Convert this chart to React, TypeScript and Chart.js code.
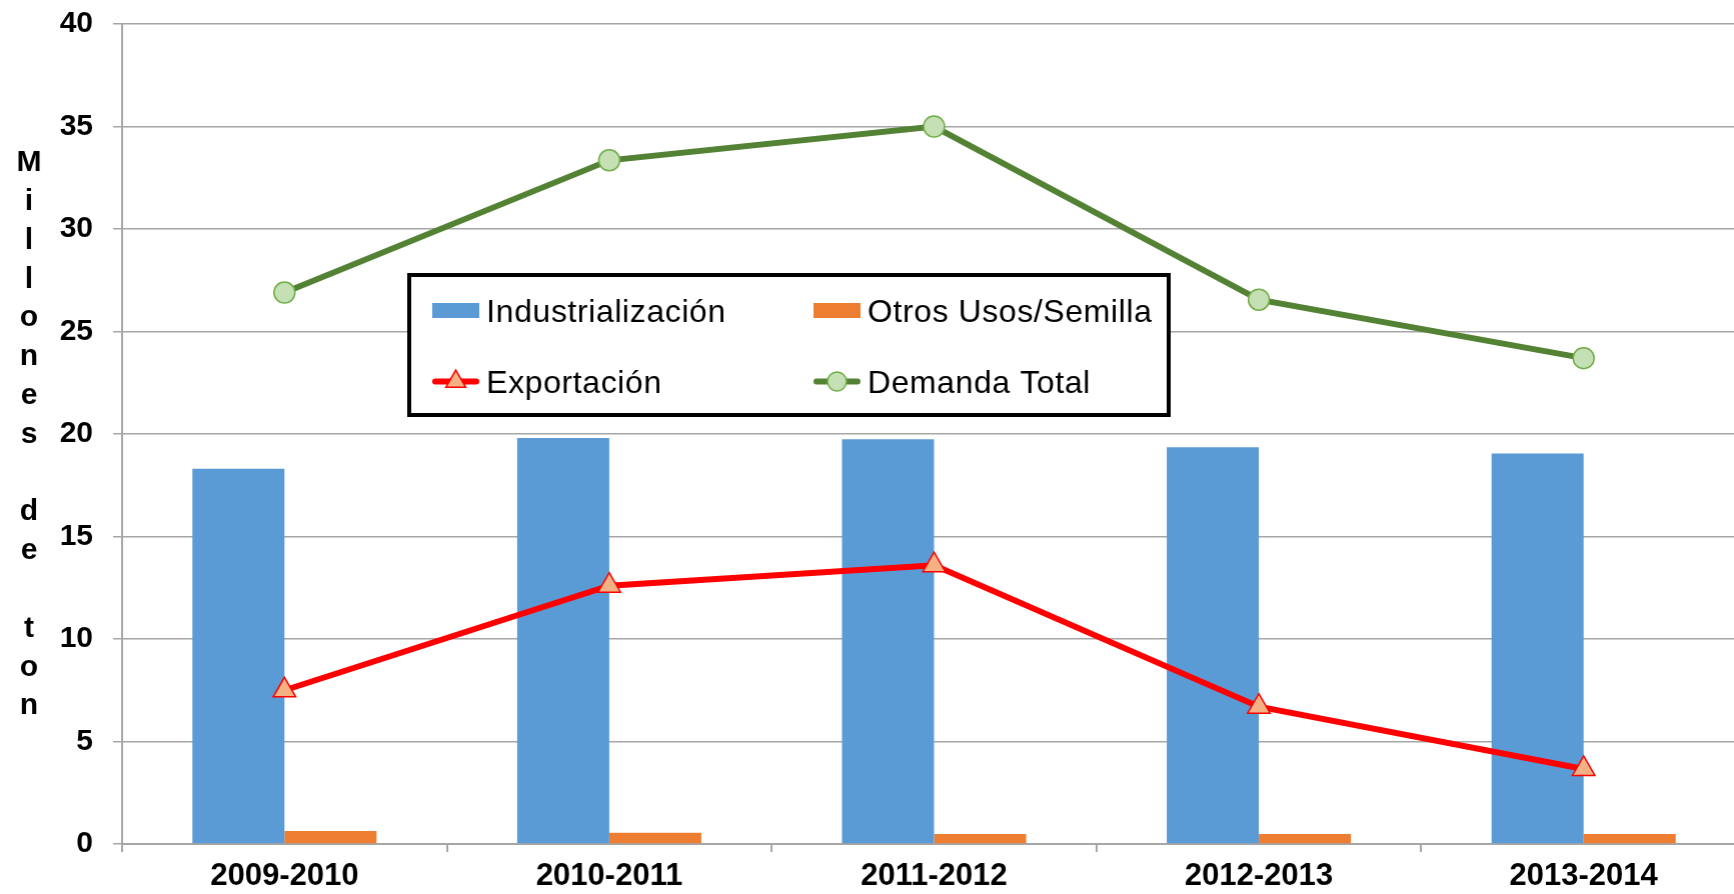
import React, { useEffect, useRef } from 'react';
import { Chart, registerables } from 'chart.js';

Chart.register(...registerables);

// ---- Data ----
const categories = ['2009-2010', '2010-2011', '2011-2012', '2012-2013', '2013-2014'];
const industrializacion = [18.3, 19.8, 19.75, 19.35, 19.05];
const otrosUsos = [0.63, 0.55, 0.49, 0.49, 0.49];
const exportacion = [7.5, 12.6, 13.6, 6.7, 3.66];
const demandaTotal = [26.9, 33.35, 35.0, 26.55, 23.7];
const seriesLabels = ['Industrialización', 'Otros Usos/Semilla', 'Exportación', 'Demanda Total'];
const yMin = 0;
const yMax = 40;
const yStep = 5;
const yTitle = 'Millones de ton';

const FONT = '"Liberation Sans", Arial, sans-serif';
const GRAY = '#a6a6a6';

const CANVAS_W = 1745; // plot area runs slightly past the visible right edge (as in the reference)
const CANVAS_H = 894;

function drawMarker(ctx: CanvasRenderingContext2D, style: string, x: number, y: number, r: number, fill: string, stroke: string, lw: number) {
  ctx.save();
  ctx.fillStyle = fill;
  ctx.strokeStyle = stroke;
  ctx.lineWidth = lw;
  ctx.beginPath();
  if (style === 'triangle') {
    let a = 0;
    ctx.moveTo(x + Math.sin(a) * r, y - Math.cos(a) * r);
    a += (2 * Math.PI) / 3;
    ctx.lineTo(x + Math.sin(a) * r, y - Math.cos(a) * r);
    a += (2 * Math.PI) / 3;
    ctx.lineTo(x + Math.sin(a) * r, y - Math.cos(a) * r);
    ctx.closePath();
  } else {
    ctx.arc(x, y, r, 0, Math.PI * 2);
  }
  ctx.fill();
  ctx.stroke();
  ctx.restore();
}

const legendPlugin = {
  id: 'boxLegend',
  afterDraw(chart: any) {
    const ctx: CanvasRenderingContext2D = chart.ctx;
    const box = { left: 407, top: 273, right: 1170, bottom: 417 };
    ctx.save();
    ctx.fillStyle = '#ffffff';
    ctx.fillRect(box.left, box.top, box.right - box.left, box.bottom - box.top);
    ctx.lineWidth = 4;
    ctx.strokeStyle = '#000000';
    ctx.strokeRect(box.left + 2, box.top + 2, box.right - box.left - 4, box.bottom - box.top - 4);

    const cols = [432, 813];
    const rows = [310.5, 381.5];
    const mw = 47;
    const fontSize = 32;
    ctx.font = `${fontSize}px ${FONT}`;
    (ctx as any).letterSpacing = '0.6px';
    ctx.textAlign = 'left';
    ctx.textBaseline = 'alphabetic';
    chart.data.datasets.forEach((ds: any, i: number) => {
      const x = cols[i % 2];
      const cy = rows[Math.floor(i / 2)];
      if (ds.type === 'line') {
        ctx.strokeStyle = ds.borderColor;
        ctx.lineWidth = 6;
        ctx.lineCap = 'round';
        ctx.beginPath();
        ctx.moveTo(x + 3, cy);
        ctx.lineTo(x + mw - 3, cy);
        ctx.stroke();
        drawMarker(ctx, ds.pointStyle, x + mw / 2, cy, ds.pointStyle === 'triangle' ? 11.5 : 9.5, ds.pointBackgroundColor, ds.pointBorderColor, 1.5);
      } else {
        ctx.fillStyle = ds.backgroundColor;
        ctx.fillRect(x, cy - 7.5, mw, 15);
      }
      ctx.fillStyle = '#000000';
      ctx.fillText(ds.label, x + 54, cy + 0.716 * fontSize / 2);
    });
    ctx.restore();
  },
};

const yTitlePlugin = {
  id: 'stackedYTitle',
  afterDraw(chart: any) {
    const ctx: CanvasRenderingContext2D = chart.ctx;
    const words = yTitle.split(' ');
    const lines: string[] = [];
    words.forEach((w, wi) => {
      if (wi > 0) lines.push('');
      for (const ch of w) lines.push(ch);
    });
    ctx.save();
    ctx.font = `bold 30px ${FONT}`;
    ctx.fillStyle = '#000000';
    ctx.textAlign = 'center';
    ctx.textBaseline = 'middle';
    const startY = 163;
    const lh = 38.8;
    lines.forEach((ch, i) => {
      if (ch) ctx.fillText(ch, 29, startY + i * lh);
    });
    ctx.restore();
  },
};

export default function App() {
  const ref = useRef<HTMLCanvasElement | null>(null);

  useEffect(() => {
    if (!ref.current) return;
    const chart = new Chart(ref.current, {
      type: 'bar',
      data: {
        labels: categories,
        datasets: [
          {
            type: 'bar',
            label: seriesLabels[0],
            data: industrializacion,
            backgroundColor: '#5b9bd5',
            borderWidth: 0,
            categoryPercentage: 0.567,
            barPercentage: 1.0,
            order: 2,
          },
          {
            type: 'bar',
            label: seriesLabels[1],
            data: otrosUsos,
            backgroundColor: '#ed7d31',
            borderWidth: 0,
            categoryPercentage: 0.567,
            barPercentage: 1.0,
            order: 2,
          },
          {
            type: 'line',
            label: seriesLabels[2],
            data: exportacion,
            borderColor: '#ff0000',
            backgroundColor: '#ff0000',
            borderWidth: 6,
            tension: 0,
            pointStyle: 'triangle',
            pointRadius: 13,
            pointBackgroundColor: '#f4b183',
            pointBorderColor: '#ff0000',
            pointBorderWidth: 1.5,
            order: 1,
          },
          {
            type: 'line',
            label: seriesLabels[3],
            data: demandaTotal,
            borderColor: '#548235',
            backgroundColor: '#548235',
            borderWidth: 6,
            tension: 0,
            pointStyle: 'circle',
            pointRadius: 10.5,
            pointBackgroundColor: '#c5e0b4',
            pointBorderColor: '#70ad47',
            pointBorderWidth: 1.5,
            order: 0,
          },
        ] as any,
      },
      options: {
        animation: false,
        responsive: false,
        maintainAspectRatio: false,
        devicePixelRatio: 1,
        layout: { padding: { top: 24, left: 0, right: 0, bottom: 0 } },
        plugins: {
          legend: { display: false },
          tooltip: { enabled: false },
          title: { display: false },
        },
        scales: {
          x: {
            offset: true,
            grid: {
              drawOnChartArea: false,
              offset: true,
              tickLength: 8,
              color: GRAY,
              lineWidth: 2,
            },
            border: { color: GRAY, width: 2 },
            ticks: {
              font: { family: FONT, size: 31, weight: 'bold' },
              color: '#000000',
              padding: 6,
              maxRotation: 0,
              autoSkip: false,
            },
            afterFit: (s: any) => {
              s.height = 50;
              s.paddingLeft = 0;
              s.paddingRight = 0;
            },
          },
          y: {
            min: yMin,
            max: yMax,
            ticks: {
              stepSize: yStep,
              font: { family: FONT, size: 30, weight: 'bold' },
              color: '#000000',
              padding: 20,
            },
            grid: { color: GRAY, lineWidth: 1.5, tickLength: 9 },
            border: { color: GRAY, width: 2 },
            afterFit: (s: any) => {
              s.width = 122;
              s.paddingTop = 0;
              s.paddingBottom = 0;
            },
          },
        },
      } as any,
      plugins: [legendPlugin, yTitlePlugin],
    });
    // make the plot area end at CANVAS_W (Chart.js may reserve a little right margin)
    for (let k = 0; k < 2; k++) {
      const diff = CANVAS_W - chart.chartArea.right;
      if (Math.abs(diff) > 0.5) chart.resize(chart.width + diff, CANVAS_H);
    }
    return () => chart.destroy();
  }, []);

  return (
    <div
      style={{
        position: 'fixed',
        left: 0,
        top: 0,
        width: 1734,
        height: 894,
        overflow: 'hidden',
        background: '#ffffff',
      }}
    >
      <div style={{ position: 'absolute', left: 0, top: 0, width: 1900, height: CANVAS_H }}>
        <canvas ref={ref} width={CANVAS_W} height={CANVAS_H} style={{ display: 'block' }} />
      </div>
    </div>
  );
}
